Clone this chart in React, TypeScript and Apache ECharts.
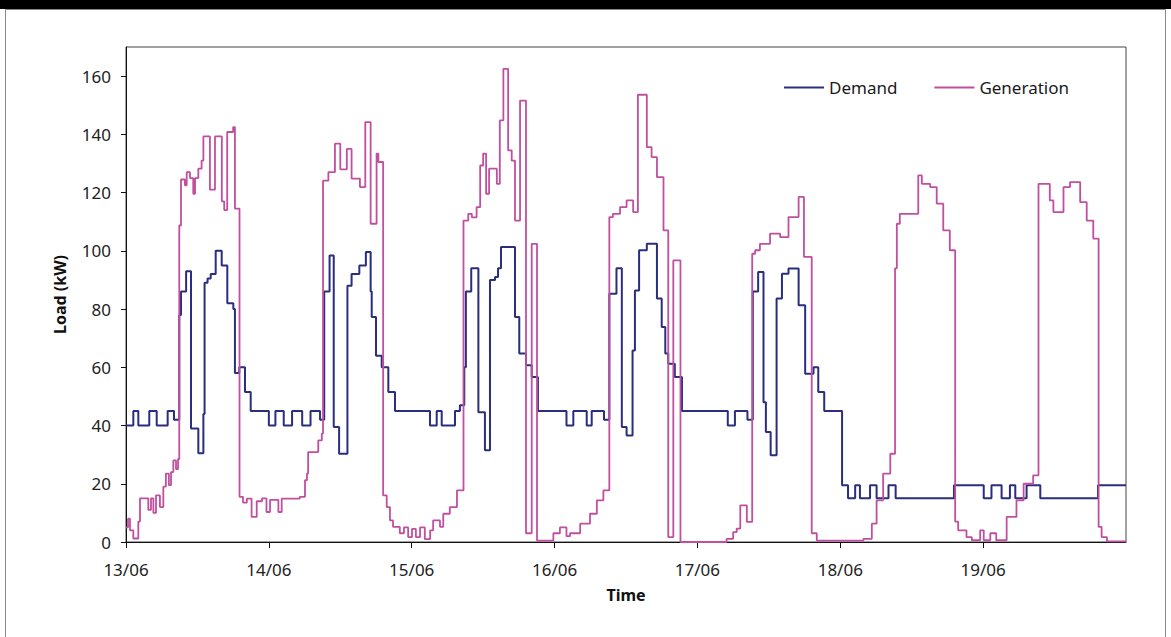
import { useEffect, useRef } from "react";
import * as echarts from "echarts";

const dayLabels = ["13/06", "14/06", "15/06", "16/06", "17/06", "18/06", "19/06", "20/06"];
const seriesNames = ["Demand", "Generation"];

// hours since 13/06 00:00 at which the demand value changes
const demandHours = [
  0, 1.23, 2.07, 3.91, 5.16, 7.0, 8.06, 8.95, 9.24, 10.1, 10.92, 12.15, 13.0, 13.2, 13.7, 14.23, 15.07, 16.08,
  17.02, 18.03, 18.3, 19.03, 19.99, 20.95, 24.0, 25.1, 26.5, 27.9, 29.6, 31.0, 32.6, 33.3, 34.2, 34.9, 35.8,
  37.2, 37.9, 39.2, 40.3, 41.1, 41.28, 42.0, 42.96, 44.07, 45.19, 51.07, 52.2, 53.04, 55.27, 56.1, 56.83, 57.1,
  58.0, 59.2, 60.3, 61.15, 62.0, 62.5, 63.0, 65.35, 66.07, 67.2, 68.16, 69.2, 74.0, 75.15, 77.4, 78.24, 80.3,
  81.2, 82.4, 83.3, 84.1, 85.1, 85.5, 86.2, 87.5, 89.2, 90.0, 90.6, 91.1, 92.2, 93.4, 101.1, 102.3, 104.4, 105.3,
  106.2, 107.1, 107.5, 108.3, 109.3, 110.2, 111.3, 113.0, 114.1, 115.5, 116.3, 117.3, 120.3, 121.3, 122.5,
  123.3, 125.0, 126.1, 128.1, 129.3, 139.1, 144.1, 145.4, 147.1, 148.5, 149.4, 151.3, 153.6, 163.3, 168,
];
const demandValues = [
  40, 45, 40, 45, 40, 45, 42, 78, 86, 93, 39, 30.5, 44, 89, 90.5, 92, 100, 95,
  82, 80, 58, 60, 51.5, 45, 40, 45, 40, 45, 40, 45, 42, 86, 98.4, 39.5, 30.3,
  88, 92, 95, 99.6, 86, 77.3, 64, 60, 51.5, 45, 40, 45, 40, 45, 47, 60, 86,
  94, 44.6, 31.5, 90, 91, 94, 101.3, 77.3, 64.7, 60.7, 56.7, 45, 40, 45, 40, 45, 42,
  85.3, 94, 39.5, 36.6, 65.8, 86.4, 100.2, 102.4, 83.6, 73.8, 64.7, 61.2, 56.7, 45, 40, 45, 42, 86,
  92.7, 48, 37.8, 29.8, 83.6, 92.1, 93.9, 81.3, 57.8, 60, 51.5, 45, 19.5, 15, 19.5,
  15, 19.5, 15, 19.5, 15, 19.5, 15, 19.5, 15, 19.5, 15, 19.5, 15, 19.5, 19.5,
];

// hours since 13/06 00:00 at which the generation value changes
const generationHours = [
  0, 0.34, 0.67, 1.23, 2.07, 2.35, 3.75, 4.2, 4.6, 5.04, 5.7, 6.27, 6.7, 7.2, 7.56, 7.95, 8.4, 8.74, 8.95, 9.24,
  9.9, 10.2, 10.75, 11.3, 11.6, 12.15, 12.7, 13.0, 14.1, 14.95, 16.1, 16.5, 17.0, 18.0, 18.3, 19.07, 19.66, 20.3,
  21.1, 21.96, 22.85, 23.6, 24.2, 25.6, 26.16, 29.2, 30.07, 30.4, 30.6, 32.3, 32.9, 33.1, 34.0, 35.1, 36.0, 37.1,
  37.9, 39.3, 40.2, 41.1, 42.1, 42.4, 43.2, 43.8, 44.35, 44.86, 46.0, 46.7, 47.4, 48.05, 48.7, 49.4, 50.2, 51.1,
  51.6, 52.75, 53.3, 54.4, 55.6, 56.7, 57.5, 58.1, 58.9, 59.5, 60.0, 60.5, 61.0, 62.3, 62.8, 63.4, 64.2, 64.8,
  65.35, 66.2, 67.2, 68.16, 69.05, 71.8, 72.9, 74.0, 74.6, 76.3, 77.95, 79.1, 80.2, 81.2, 81.8, 83.0, 84.1, 85.2,
  86.0, 87.5, 88.3, 89.2, 90.3, 91.1, 91.95, 93.15, 100.9, 102.0, 102.6, 103.2, 104.3, 105.2, 105.7, 106.5,
  108.2, 109.9, 111.3, 113.0, 113.9, 115.2, 116.05, 123.9, 125.3, 126.1, 127.2, 128.4, 129.2, 129.5, 130.0,
  133.1, 133.7, 135.1, 136.2, 137.3, 138.4, 139.3, 139.8, 141.2, 142.1, 143.5, 144.1, 145.2, 146.2, 147.95,
  149.6, 150.8, 152.4, 153.3, 155.2, 155.8, 157.5, 158.6, 160.3, 161.4, 162.5, 163.4, 163.9, 164.8, 168,
];
const generationValues = [
  5, 8, 4, 1.2, 7, 15, 11, 15, 10, 16, 12, 19, 23.5, 19.5, 24, 28, 25, 28.5, 108.7, 124.5,
  122.5, 127, 125, 119.6, 125, 128.2, 131, 139.3, 121, 139.3, 117, 114, 140.8, 142.5, 114.5, 15.5, 13.5, 14.9,
  8.6, 14, 15, 10.3, 14.5, 10.3, 14.9, 15.5, 21.2, 23.5, 30.9, 34.9, 37.2, 124.1, 127, 136.8, 128, 135,
  124.8, 121.9, 144.2, 109.3, 133.4, 130.5, 16, 12, 7.4, 5.2, 3, 5, 1.7, 4.5, 1.7, 5, 1, 4,
  7.4, 5.2, 9.7, 12, 17.7, 110.4, 112.7, 111.5, 115, 129.3, 133.4, 119.6, 128.2, 123, 144.8, 162.5, 134.5, 131,
  110.4, 151.6, 3, 102.4, 0.5, 3, 5, 2, 3, 6.3, 9.7, 14.3, 17.7, 111.6, 112.7, 115, 117.3, 113.3,
  153.6, 135.6, 132.2, 125.3, 107, 1.7, 96.7, 0, 1.1, 3.4, 4.6, 12.6, 6.9, 99, 100.2, 102.4,
  105.9, 104.7, 111.6, 118.5, 97.9, 3, 0.5, 1.1, 6.3, 14.3, 23.5, 30.3, 94, 109.3, 112.7,
  125.9, 123, 121.9, 116.2, 107, 100.2, 7, 4, 1.7, 0.6, 4, 0.6, 3, 0.6, 8.6,
  14.3, 20, 22.9, 123, 117.3, 113.3, 121.9, 123.6, 116.7, 110.4, 104.2, 5.2, 1.7, 0.2, 0.2,
];

const FONT = "'Noto Sans', 'Open Sans', sans-serif";

export default function App() {
  const ref = useRef<HTMLDivElement>(null);

  useEffect(() => {
    const chart = echarts.init(ref.current!, null, { renderer: "svg" });
    const demand = demandHours.map((h, i) => [h, demandValues[i]]);
    const generation = generationHours.map((h, i) => [h, generationValues[i]]);

    chart.setOption({
      animation: false,
      backgroundColor: "#ffffff",
      textStyle: { fontFamily: FONT },
      graphic: [
        { type: "rect", shape: { x: 0, y: 0, width: 1171, height: 9 }, style: { fill: "#000" }, silent: true },
        {
          type: "rect",
          shape: { x: 5.5, y: 9.5, width: 1160, height: 650 },
          style: { fill: "none", stroke: "#888", lineWidth: 1 },
          silent: true,
        },
      ],
      grid: {
        left: 126,
        right: 45,
        top: 47,
        bottom: 95,
        show: true,
        borderColor: "#444",
        borderWidth: 1,
        backgroundColor: "transparent",
      },
      legend: {
        data: seriesNames,
        left: 779,
        top: 74,
        icon: "rect",
        itemWidth: 40,
        itemHeight: 2,
        itemGap: 37,
        textStyle: { fontSize: 17, color: "#1a1a1a", fontFamily: FONT },
      },
      xAxis: {
        type: "value",
        min: 0,
        max: 168,
        interval: 24,
        name: "Time",
        nameLocation: "middle",
        nameGap: 45,
        nameTextStyle: { fontWeight: "bold", fontSize: 16, color: "#111", fontFamily: FONT },
        axisLine: { show: true, onZero: false, lineStyle: { color: "#111", width: 1 } },
        axisTick: { show: true, length: 6, lineStyle: { color: "#111" } },
        axisLabel: {
          fontSize: 17,
          color: "#222",
          margin: 19,
          showMaxLabel: false,
          formatter: (v: number) => dayLabels[Math.round(v / 24)] ?? "",
        },
        splitLine: { show: false },
      },
      yAxis: {
        type: "value",
        min: 0,
        max: 170,
        interval: 20,
        name: "Load (kW)",
        nameLocation: "middle",
        nameGap: 58,
        nameRotate: 90,
        nameTextStyle: { fontWeight: "bold", fontSize: 16, color: "#111", fontFamily: FONT },
        axisLine: { show: true, lineStyle: { color: "#111", width: 1 } },
        axisTick: { show: true, length: 5, lineStyle: { color: "#111" } },
        axisLabel: { fontSize: 17, color: "#222", margin: 15, showMaxLabel: false },
        splitLine: { show: false },
      },
      series: [
        {
          name: seriesNames[0],
          type: "line",
          step: "end",
          data: demand,
          showSymbol: false,
          symbol: "none",
          color: "#2b2e7e",
          lineStyle: { color: "#2b2e7e", width: 2 },
          z: 2,
        },
        {
          name: seriesNames[1],
          type: "line",
          step: "end",
          data: generation,
          showSymbol: false,
          symbol: "none",
          color: "#c0509f",
          lineStyle: { color: "#c0509f", width: 1.8 },
          z: 3,
        },
      ],
    });

    return () => chart.dispose();
  }, []);

  return (
    <div
      ref={ref}
      style={{ position: "fixed", left: 0, top: 0, width: 1171, height: 637, background: "#fff" }}
    />
  );
}
